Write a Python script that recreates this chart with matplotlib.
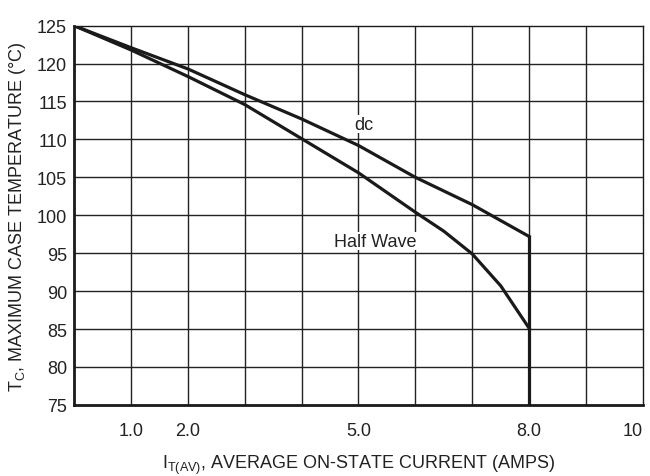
import matplotlib
matplotlib.use("Agg")
import matplotlib.pyplot as plt
from matplotlib import font_manager

# data
dc_x = [0, 1, 2, 3, 4, 5, 6, 7, 8]
dc_y = [125.0, 122.1, 119.3, 115.9, 112.7, 109.2, 105.0, 101.4, 97.2]
hw_x = [0, 1, 2, 3, 4, 5, 6, 6.5, 7, 7.5, 8]
hw_y = [125.0, 121.8, 118.3, 114.6, 110.1, 105.6, 100.4, 97.9, 94.9, 90.7, 85.1]
cutoff_x = 8.0

xtick_pos = [1, 2, 5, 8, 10]
xtick_labels = ["1.0", "2.0", "5.0", "8.0", "10"]
ytick_pos = [75, 80, 85, 90, 95, 100, 105, 110, 115, 120, 125]

names = {f.name for f in font_manager.fontManager.ttflist}
fam = "Liberation Sans Narrow" if "Liberation Sans Narrow" in names else "Liberation Sans"
plt.rcParams["font.family"] = [fam, "DejaVu Sans"]
plt.rcParams["mathtext.fontset"] = "custom"
plt.rcParams["mathtext.rm"] = fam

fig = plt.figure(figsize=(6.5, 4.77), dpi=100)
ax = fig.add_axes([0.1138, 0.149, 0.8754, 0.7952])

# grid
for x in range(1, 10):
    ax.axvline(x, color="#222222", lw=1.0, zorder=1)
for y in ytick_pos[1:-1]:
    ax.axhline(y, color="#222222", lw=1.0, zorder=1)

ax.plot(dc_x, dc_y, color="#1a1a1a", lw=2.3, zorder=3)
ax.plot(hw_x, hw_y, color="#1a1a1a", lw=2.3, zorder=3)
ax.plot([cutoff_x, cutoff_x], [dc_y[-1], 75], color="#1a1a1a", lw=2.3, zorder=3)

ax.text(4.93, 112.0, "dc", fontsize=13, ha="left", va="center", color="#222222",
        bbox=dict(facecolor="white", edgecolor="none", pad=0.5))
ax.text(5.3, 96.6, "Half Wave", fontsize=13, ha="center", va="center", color="#222222",
        bbox=dict(facecolor="white", edgecolor="none", pad=0.5))

ax.set_xlim(0, 10)
ax.set_ylim(75, 125)
ax.set_xticks(xtick_pos)
ax.set_xticklabels(xtick_labels)
ax.get_xticklabels()[-1].set_ha("right")
ax.set_yticks(ytick_pos)
ax.tick_params(length=0, labelsize=13, colors="#222222")
ax.tick_params(axis="x", pad=12)
ax.tick_params(axis="y", pad=5)

for s in ["left", "bottom"]:
    ax.spines[s].set_linewidth(2.0)
for s in ["top", "right"]:
    ax.spines[s].set_linewidth(1.0)
for s in ax.spines.values():
    s.set_color("#1a1a1a")

ax.set_xlabel(r"$\mathregular{I_{T(AV)}}$, AVERAGE ON-STATE CURRENT (AMPS)",
              fontsize=13, color="#222222", labelpad=10)
ax.set_ylabel(r"$\mathregular{T_C}$, MAXIMUM CASE TEMPERATURE (°C)",
              fontsize=13, color="#222222", labelpad=6)

fig.savefig("out.png", dpi=100)
